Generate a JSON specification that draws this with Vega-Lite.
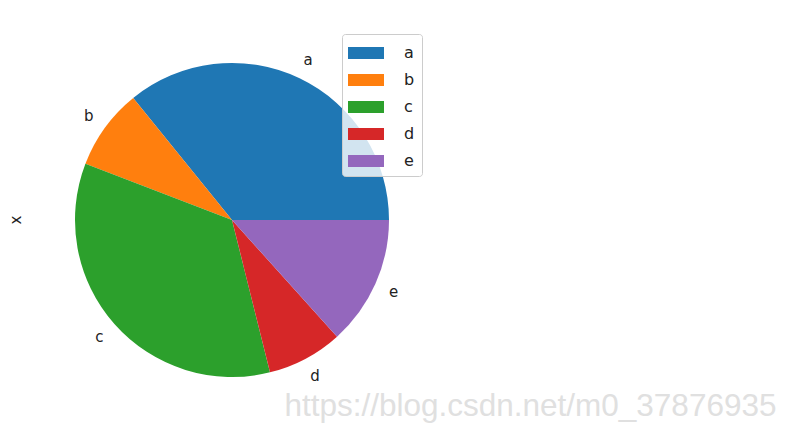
{
  "$schema": "https://vega.github.io/schema/vega-lite/v6.json",
  "description": "Pie chart of x by category a-e (pandas / matplotlib style).",
  "autosize": "none",
  "width": 384,
  "height": 440,
  "padding": {"left": 40, "top": 0, "right": 370, "bottom": 0},
  "background": "white",
  "config": {
    "view": {"stroke": null},
    "font": "DejaVu Sans"
  },
  "title": {
    "text": "x",
    "orient": "left",
    "anchor": "middle",
    "offset": 16,
    "fontSize": 15,
    "fontWeight": "normal",
    "font": "DejaVu Sans",
    "color": "#222222"
  },
  "data": {
    "values": [
      {"k": "a", "v": 129, "i": 1},
      {"k": "b", "v": 30, "i": 2},
      {"k": "c", "v": 125, "i": 3},
      {"k": "d", "v": 28, "i": 4},
      {"k": "e", "v": 48, "i": 5}
    ]
  },
  "encoding": {
    "theta": {
      "field": "v",
      "type": "quantitative",
      "stack": true,
      "scale": {"range": [1.5708, -4.7124]}
    },
    "order": {"field": "i", "type": "quantitative"}
  },
  "layer": [
    {
      "mark": {"type": "arc", "outerRadius": 157},
      "encoding": {
        "color": {
          "field": "k",
          "type": "nominal",
          "scale": {
            "domain": ["a", "b", "c", "d", "e"],
            "range": ["#1f77b4", "#ff7f0e", "#2ca02c", "#d62728", "#9467bd"]
          },
          "legend": {
            "title": null,
            "orient": "none",
            "legendX": 302,
            "legendY": 34,
            "symbolType": "M-1.5,-0.5H1.5V0.5H-1.5Z",
            "symbolSize": 576,
            "symbolStrokeWidth": 0,
            "symbolOffset": 5,
            "labelOffset": 26,
            "labelFontSize": 16,
            "labelFont": "DejaVu Sans",
            "labelColor": "#222222",
            "rowPadding": 7,
            "padding": 7,
            "strokeColor": "#cccccc",
            "fillColor": "rgba(255,255,255,0.8)",
            "cornerRadius": 3
          }
        }
      }
    },
    {
      "mark": {"type": "text", "radius": 177, "fontSize": 15, "font": "DejaVu Sans", "fill": "#222222"},
      "encoding": {
        "detail": {"field": "k", "type": "nominal"},
        "text": {"field": "k", "type": "nominal"}
      }
    },
    {
      "mark": {"type": "rule", "opacity": 0},
      "encoding": {
        "x": {
          "datum": 0,
          "type": "quantitative",
          "axis": {
            "title": "https://blog.csdn.net/m0_37876935",
            "domain": false,
            "ticks": false,
            "labels": false,
            "grid": false,
            "titleX": 736,
            "titleY": -25,
            "titleAlign": "right",
            "titleBaseline": "alphabetic",
            "titleFont": "Liberation Sans",
            "titleFontSize": 31.5,
            "titleFontWeight": "normal",
            "titleColor": "#e0e0e0"
          }
        }
      }
    }
  ]
}
